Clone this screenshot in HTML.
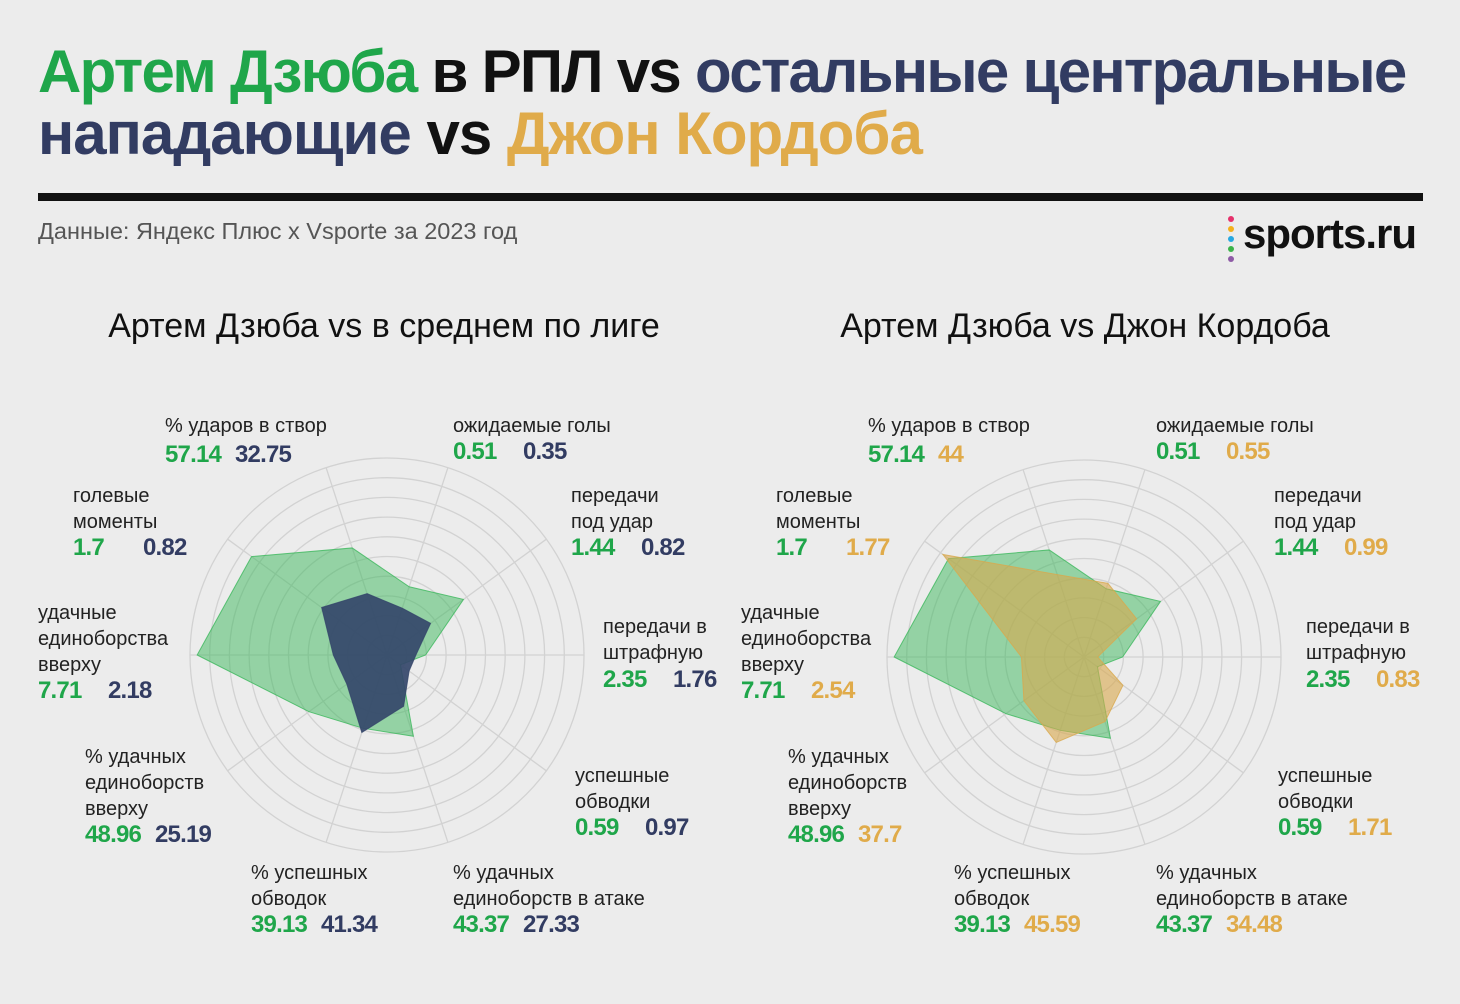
<!DOCTYPE html>
<html><head><meta charset="utf-8">
<style>
body{margin:0;background:#ececec;}
#root{position:relative;width:1460px;height:1004px;background:#ececec;overflow:hidden;font-family:"Liberation Sans","DejaVu Sans",sans-serif;}
.t{position:absolute;left:38px;font-weight:bold;font-size:60px;letter-spacing:-1px;white-space:nowrap;line-height:62px}
.g{color:#1fa64a}.n{color:#323c62}.o{color:#e0ab4a}.k{color:#111}
.lab{position:absolute;font-size:20px;line-height:26px;color:#222;white-space:nowrap}
.v{position:absolute;font-family:"Liberation Sans Narrow","Liberation Sans",sans-serif;font-weight:bold;font-size:24px;letter-spacing:-0.8px;white-space:nowrap;line-height:28px}
.ct{position:absolute;font-size:34px;color:#111;white-space:nowrap;transform:translateX(-50%)}
</style></head><body>
<div id="root">
<div class="t" style="top:41px;letter-spacing:-1.7px"><span class="g">Артем Дзюба</span> <span class="k">в РПЛ vs</span> <span class="n">остальные центральные</span></div>
<div class="t" style="top:103px"><span class="n">нападающие</span> <span class="k">vs</span> <span class="o">Джон Кордоба</span></div>
<div style="position:absolute;left:38px;top:193px;width:1385px;height:8px;background:#111"></div>
<div style="position:absolute;left:38px;top:218px;font-size:23.5px;color:#555">Данные: Яндекс Плюс x Vsporte за 2023 год</div>
<div style="position:absolute;left:1228px;top:216px;width:6px;height:48px">
<div style="width:6px;height:6px;border-radius:3px;background:#e5316b;margin-bottom:4px"></div><div style="width:6px;height:6px;border-radius:3px;background:#f3b01c;margin-bottom:4px"></div><div style="width:6px;height:6px;border-radius:3px;background:#27a8e0;margin-bottom:4px"></div><div style="width:6px;height:6px;border-radius:3px;background:#3cb44a;margin-bottom:4px"></div><div style="width:6px;height:6px;border-radius:3px;background:#8e5ba6"></div></div>
<div style="position:absolute;left:1243px;top:210px;font-size:42px;font-weight:bold;color:#111;letter-spacing:-1px">sports.ru</div>
<div class="ct" style="left:384px;top:307px">Артем Дзюба vs в среднем по лиге</div>
<div class="ct" style="left:1085px;top:307px">Артем Дзюба vs Джон Кордоба</div>
<svg id="svg" width="1460" height="1004" style="position:absolute;left:0;top:0"></svg>
</div>
<script>
const categories=["% ударов в створ","ожидаемые голы","передачи\nпод удар","передачи в\nштрафную","успешные\nобводки","% удачных\nединоборств в атаке","% успешных\nобводок","% удачных\nединоборств\nвверху","удачные\nединоборства\nвверху","голевые\nмоменты"];
const dzyuba=[57.14,0.51,1.44,2.35,0.59,43.37,39.13,48.96,7.71,1.7];
const league=[32.75,0.35,0.82,1.76,0.97,27.33,41.34,25.19,2.18,0.82];
const cordoba=[44,0.55,0.99,0.83,1.71,34.48,45.59,37.7,2.54,1.77];
const axisMax=[100,1.4,3,12,7,100,100,100,8,2];
const valueLabels1=["57.14","0.51","1.44","2.35","0.59","43.37","39.13","48.96","7.71","1.7"];
const valueLabels2=["32.75","0.35","0.82","1.76","0.97","27.33","41.34","25.19","2.18","0.82"];
const valueLabels3=["44","0.55","0.99","0.83","1.71","34.48","45.59","37.7","2.54","1.77"];

const NS="http://www.w3.org/2000/svg";
const svg=document.getElementById('svg');
const root=document.getElementById('root');
const R=197;
const angles=[108,72,36,0,-36,-72,-108,-144,180,144];
const labPos=[[165,413,455],[453,413,452],[571,483,548],[603,614,680],[575,763,828],[453,860,925],[251,860,925],[85,744,835],[38,600,691],[73,483,548]];
function pt(cx,cy,i,v){const r=v/axisMax[i]*R;const a=angles[i]*Math.PI/180;return [cx+r*Math.cos(a),cy-r*Math.sin(a)];}
function grid(cx,cy,name){
  for(let k=1;k<=10;k++){const c=document.createElementNS(NS,'circle');
  c.setAttribute('cx',cx);c.setAttribute('cy',cy);c.setAttribute('r',R*k/10);c.setAttribute('fill','none');c.setAttribute('stroke','#d2d2d2');c.setAttribute('stroke-width','1.3');
  
  
  svg.appendChild(c);}
  for(let i=0;i<10;i++){const a=angles[i]*Math.PI/180;const l=document.createElementNS(NS,'line');
  l.setAttribute('x1',cx);l.setAttribute('y1',cy);l.setAttribute('x2',cx+R*Math.cos(a));l.setAttribute('y2',cy-R*Math.sin(a));l.setAttribute('stroke','#d2d2d2');l.setAttribute('stroke-width','1.3');
  
  
  svg.appendChild(l);}
}
function poly(cx,cy,vals,fill,op,name){
  const p=document.createElementNS(NS,'polygon');
  p.setAttribute('points',vals.map((v,i)=>pt(cx,cy,i,v).join(',')).join(' '));
  p.setAttribute('fill',fill);p.setAttribute('fill-opacity',op);p.setAttribute('stroke',fill);p.setAttribute('stroke-opacity',0.8);
  
  
  svg.appendChild(p);
}
function labels(dx,second,col,name){
  categories.forEach((c,i)=>{
    const [x,y,vy]=labPos[i];
    const d=document.createElement('div');d.className='lab';d.style.left=(x+dx)+'px';d.style.top=y+'px';d.innerHTML=c.replace(/\n/g,'<br>');
    
    
    root.appendChild(d);
    const a=document.createElement('div');a.className='v';a.style.left=(x+dx)+'px';a.style.top=(vy-14)+'px';a.style.color='#1fa64a';a.textContent=valueLabels1[i];
    
    
    root.appendChild(a);
    const b=document.createElement('div');b.className='v';b.style.left=(x+dx+70)+'px';b.style.top=(vy-14)+'px';b.style.color=col;b.textContent=second[i];
    
    
    root.appendChild(b);
  });
}
grid(387,655,'left');
poly(387,655,dzyuba,'#3cb85c',0.5,'left-dzyuba-area');
poly(387,655,league,'#34466a',0.92,'left-league-area');
grid(1084,657,'right');
poly(1084,657,dzyuba,'#3cb85c',0.5,'right-dzyuba-area');
poly(1084,657,cordoba,'#d9a94c',0.6,'right-cordoba-area');
labels(0,valueLabels2,'#323c62','left');
labels(703,valueLabels3,'#e0ab4a','right');
</script>
</body></html>
